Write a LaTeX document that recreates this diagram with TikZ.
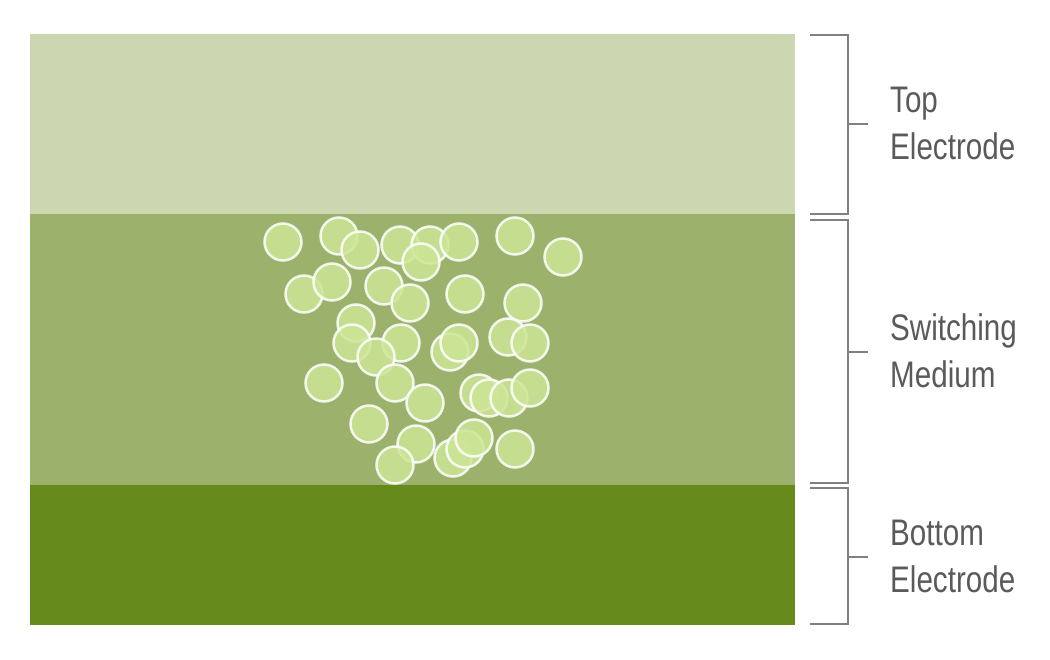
\documentclass[tikz,border=0pt]{standalone}
\usepackage{fontspec}
\setmainfont{Liberation Sans}[FakeStretch=0.8]
\usepackage{tikz}

\definecolor{topcol}{HTML}{CCD7B2}
\definecolor{midcol}{HTML}{9CB16B}
\definecolor{botcol}{HTML}{668B1C}
\definecolor{grain}{HTML}{CDE596}
\definecolor{labelgray}{HTML}{5A5A5A}

\begin{document}
\begin{tikzpicture}[x=1pt,y=-1pt,
  layer/.style={anchor=north west,inner sep=0pt,minimum width=765pt},
  particle/.style={circle,minimum size=37pt,inner sep=0pt,fill=grain,fill opacity=0.85,draw=white,draw opacity=0.85,line width=2.5pt},
  bracket/.style={draw=gray,line width=1.2pt},
  layerlabel/.style={anchor=west,inner sep=0pt,align=left,text=labelgray,font=\fontsize{37}{47}\selectfont}]

\useasboundingbox (0,0) rectangle (1050,660);

\node[layer,fill=topcol,minimum height=180pt] (top) at (30,34) {};
\node[layer,fill=midcol,minimum height=271pt] (mid) at (30,214) {};
\node[layer,fill=botcol,minimum height=140pt] (bot) at (30,485) {};

\foreach \x/\y [count=\i] in {283/242, 339/236, 360/250, 400/245, 430/245, 459/242, 421/262, 515/236, 563/257,
  304/294, 332/282, 384/286, 410/303, 465/294, 523/303,
  356/323, 352/343, 401/343, 376/357, 450/352, 459/343, 508/337, 530/343,
  324/383, 395/383, 425/403, 479/393, 489/398, 509/398, 530/388,
  369/424, 416/444, 395/465, 453/458, 465/449, 474/438, 515/449}
  \node[particle] (p\i) at (\x,\y) {};

\coordinate (t1) at (810,35);
\coordinate (t2) at (848,35);
\coordinate (t3) at (848,214);
\coordinate (t4) at (810,214);
\coordinate (tm) at (848,124);
\coordinate (tt) at (868,124);
\draw[bracket] (t1) -- (t2) -- (t3) -- (t4);
\draw[bracket] (tm) -- (tt);

\coordinate (m1) at (810,220);
\coordinate (m2) at (848,220);
\coordinate (m3) at (848,483);
\coordinate (m4) at (810,483);
\coordinate (mm) at (848,352);
\coordinate (mt) at (868,352);
\draw[bracket] (m1) -- (m2) -- (m3) -- (m4);
\draw[bracket] (mm) -- (mt);

\coordinate (b1) at (810,488);
\coordinate (b2) at (848,488);
\coordinate (b3) at (848,624);
\coordinate (b4) at (810,624);
\coordinate (bm) at (848,557);
\coordinate (bt) at (868,557);
\draw[bracket] (b1) -- (b2) -- (b3) -- (b4);
\draw[bracket] (bm) -- (bt);

\node[layerlabel] (toplabel) at (890,123) {Top\\Electrode};
\node[layerlabel] (midlabel) at (890,351) {Switching\\Medium};
\node[layerlabel] (botlabel) at (890,556) {Bottom\\Electrode};

\end{tikzpicture}
\end{document}
